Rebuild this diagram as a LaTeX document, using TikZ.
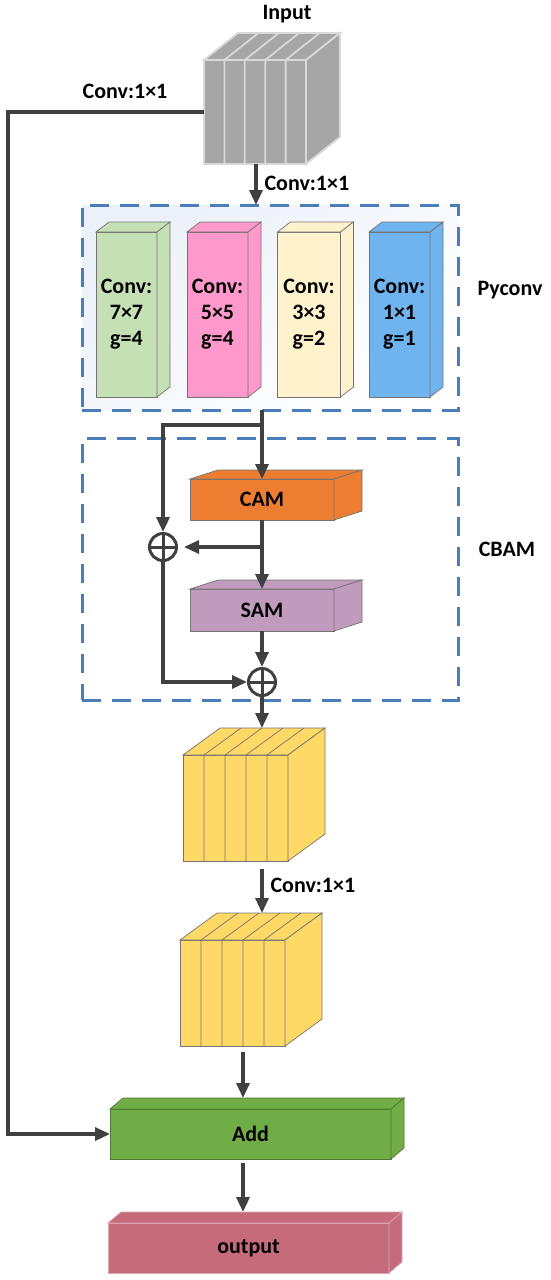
\documentclass[tikz,border=0pt]{standalone}
\usepackage{fontspec}
\setmainfont{Carlito}
\usetikzlibrary{arrows.meta, positioning, calc}

\definecolor{arrowgray}{HTML}{404040}
\definecolor{dashblue}{HTML}{4A7EBB}
\definecolor{pyfill}{HTML}{ECF1F9}
\definecolor{inputgray}{HTML}{A6A6A6}
\definecolor{inputline}{HTML}{D9D9D9}
\definecolor{featyellow}{HTML}{FFD966}
\definecolor{k7green}{HTML}{C5E0B4}
\definecolor{k5pink}{HTML}{FF99CC}
\definecolor{k3cream}{HTML}{FFF2CC}
\definecolor{k1blue}{HTML}{6FB3EF}
\definecolor{camorange}{HTML}{ED7D31}
\definecolor{samlilac}{HTML}{C09BBD}
\definecolor{addgreen}{HTML}{70AD47}
\definecolor{outrose}{HTML}{C66B7B}

% box with top and side faces: [opts]{name}{centre}{w}{h}{depth}{fill}{draw}{text}
\newcommand{\cuboid}[9][]{%
  \node[face, fill=#7, draw=#8, minimum width=#4pt, minimum height=#5pt, #1] (#2) at (#3) {#9};
  \filldraw[fill=#7, draw=#8, line width=0.7pt, #1] (#2.north west) -- ++(#6) -- ($(#2.north east)+(#6)$) -- (#2.north east) -- cycle;
  \filldraw[fill=#7, draw=#8, line width=0.7pt, #1] (#2.north east) -- ++(#6) -- ($(#2.south east)+(#6)$) -- (#2.south east) -- cycle;
  \coordinate (#2 back) at ($(#2.north)+(#6)$);
}
% feature map cut in five slices: [opts]{name}{centre}{w}{h}{depth}{fill}{draw}
\newcommand{\slab}[8][]{%
  \cuboid[#1]{#2}{#3}{#4}{#5}{#6}{#7}{#8}{}
  \foreach \k in {1,...,4}
    \draw[#8, line width=0.7pt, #1] ($(#2.south west)!\k/5!(#2.south east)$) -- ($(#2.north west)!\k/5!(#2.north east)$) -- ++(#6);
}

\begin{document}
\begin{tikzpicture}[
    x=1pt, y=-1pt,
    face/.style={draw, rectangle, inner sep=0pt, outer sep=0pt, align=center, line width=0.7pt, font=\fontsize{22}{26}\selectfont\bfseries},
    dashbox/.style={rectangle, draw=dashblue, line width=3pt, dash pattern=on 19pt off 11pt, inner sep=0pt, outer sep=0pt},
    arrow/.style={-{Triangle[length=15pt,width=13pt]}, line width=3.2pt, draw=arrowgray},
    sum/.style={circle, draw=arrowgray, line width=3pt, minimum size=27pt, inner sep=0pt,
        path picture={\draw[arrowgray, line width=3pt] (path picture bounding box.north) -- (path picture bounding box.south)
            (path picture bounding box.west) -- (path picture bounding box.east);}},
    lbl/.style={font=\fontsize{22}{26}\selectfont\bfseries}
]
    \useasboundingbox (0,0) rectangle (550,1280);

    % Frames
    \node[dashbox, minimum width=376pt, minimum height=205pt, top color=pyfill, bottom color=white, shading angle=35] (pyc) at (270,307.5) {};
    \node[dashbox, minimum width=376pt, minimum height=262pt] (cbam) at (270,569) {};
    \node[lbl] (pyclbl) at (510,290) {Pyconv};
    \node[lbl] (cbamlbl) at (507,549) {CBAM};

    % Input
    \slab[line width=1.8pt]{inp}{255,112}{102}{104}{34,-27}{inputgray}{inputline}
    \node[lbl] (inplbl) at (287,14) {Input};

    % Pyramid convolution
    \cuboid{k7}{126.5,314.5}{61}{165}{13,-10}{k7green}{black!55}{Conv:\\7×7\\g=4}
    \cuboid{k5}{217.5,314.5}{61}{165}{13,-10}{k5pink}{black!55}{Conv:\\5×5\\g=4}
    \cuboid{k3}{309,314.5}{63}{165}{13,-10}{k3cream}{black!55}{Conv:\\3×3\\g=2}
    \cuboid{k1}{399.5,314.5}{61}{165}{13,-10}{k1blue}{black!55}{Conv:\\1×1\\g=1}

    % CBAM
    \cuboid{cam}{262,499.5}{144}{41}{28,-9}{camorange}{black!55}{CAM}
    \cuboid{sam}{262,610}{144}{42}{28,-9}{samlilac}{black!55}{SAM}
    \node[sum] (sum1) at (163,547) {};
    \node[sum] (sum2) at (262,682) {};

    % Feature maps
    \slab{fm1}{235.5,808}{105}{106}{37,-27}{featyellow}{black!55}
    \slab{fm2}{232.5,993}{105}{106}{37,-27}{featyellow}{black!55}

    % Add and output
    \cuboid{add}{250.5,1134}{281}{50}{13,-11}{addgreen}{addgreen!70!black}{Add}
    \cuboid{outp}{248.5,1248}{281}{50}{13,-11}{outrose}{outrose!60!white}{output}

    % Arrows
    \coordinate (lft) at (8,1134);
    \draw[arrow] (inp.west) -| (lft) -- (add.west);
    \node[lbl] (convl) at (125,91) {Conv:1×1};

    \draw[arrow] ([xshift=1pt]inp.south) -- ([xshift=1pt]inp.south |- pyc.north);
    \node[lbl, anchor=west] (convt) at (261,183) {Conv:1×1};

    \draw[arrow] (cam.north |- pyc.south) -- (cam.north);
    \coordinate (br1) at (cam.north |- 0,425);
    \draw[arrow] (br1) -| (sum1.north);
    \draw[arrow] (cam.south) -- (sam.north);
    \draw[arrow, shorten >=6pt] (cam.south |- sum1.east) -- (sum1.east);
    \draw[arrow] (sam.south) -- (sum2.north);
    \draw[arrow] (sum1.south) |- (sum2.west);
    \draw[arrow] (sum2.south) -- (sum2.south |- fm1 back);

    \draw[arrow] ([yshift=-8pt]fm1.south -| sum2) coordinate (a0) -- (a0 |- fm2 back);
    \node[lbl, anchor=west] (convm) at (267,885) {Conv:1×1};

    \draw[arrow] ([shift={(10.5pt,-6pt)}]fm2.south) coordinate (a1) -- (a1 |- add back);
    \draw[arrow] ([shift={(-7.5pt,-4pt)}]add.south) coordinate (a2) -- (a2 |- outp back);
\end{tikzpicture}
\end{document}
